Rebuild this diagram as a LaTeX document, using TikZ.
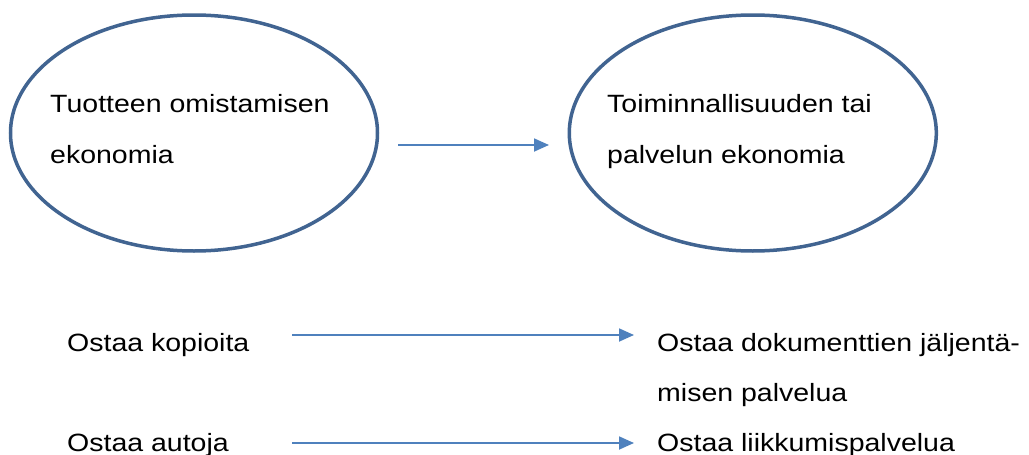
\documentclass[tikz,border=0pt]{standalone}
\usepackage{fontspec}
\setmainfont[FakeStretch=1.14]{Liberation Sans}
\usetikzlibrary{shapes.geometric,arrows.meta}
\definecolor{ringblue}{RGB}{65,100,145}
\definecolor{arrowblue}{RGB}{79,129,189}
\tikzset{
  ring/.style={draw=ringblue, line width=3.5pt, ellipse,
    minimum width=367pt, minimum height=236pt, inner sep=0pt},
  label/.style={anchor=base west, inner sep=0pt, align=left,
    font=\fontsize{25}{50}\selectfont},
  flow/.style={draw=arrowblue, line width=1.8pt,
    -{Triangle[length=15pt,width=13pt]}}
}
\begin{document}
\begin{tikzpicture}[x=1pt,y=-1pt]
  \useasboundingbox (0,0) rectangle (1029,455);

  % the two economies (multi-line labels are placed by their last baseline)
  \node[ring] (own) at (194,133) {};
  \node[ring] (serv) at (752.8,133) {};
  \node[label, font=\fontsize{25}{51}\selectfont] (ownTxt) at (50,163)
    {Tuotteen omistamisen\\ekonomia};
  \node[label, font=\fontsize{25}{51}\selectfont] (servTxt) at (607,163)
    {Toiminnallisuuden tai\\palvelun ekonomia};
  \coordinate (topA) at (398,145);
  \coordinate (topB) at (549,145);
  \draw[flow] (topA) -- (topB);

  % examples
  \node[label] (buyCopies) at (67,351) {Ostaa kopioita};
  \node[label, font=\fontsize{25}{50}\selectfont] (buyDocs) at (657,401)
    {Ostaa dokumenttien jäljentä-\\misen palvelua};
  \node[label] (buyCars) at (67,451) {Ostaa autoja};
  \node[label] (buyMob) at (657,451) {Ostaa liikkumispalvelua};

  \coordinate (rowOneA) at (292,335);
  \coordinate (rowOneB) at (634,335);
  \coordinate (rowTwoA) at (292,443);
  \coordinate (rowTwoB) at (634,443);
  \draw[flow] (rowOneA) -- (rowOneB);
  \draw[flow] (rowTwoA) -- (rowTwoB);
\end{tikzpicture}
\end{document}
